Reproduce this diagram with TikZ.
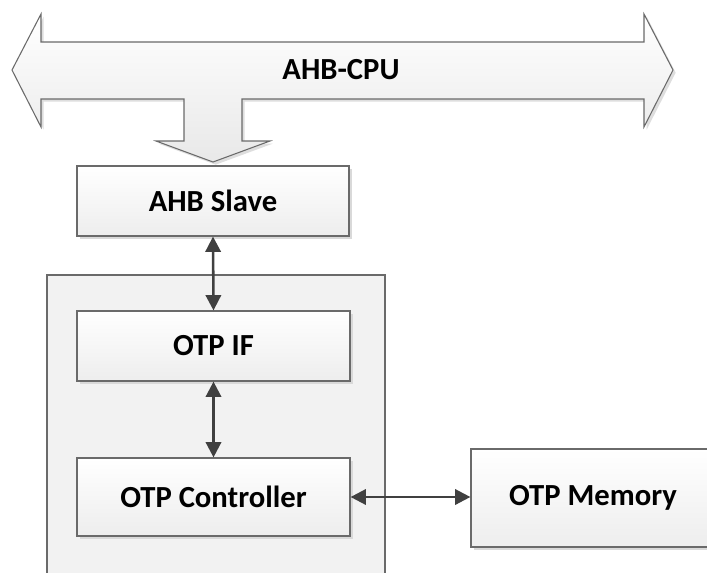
\documentclass[tikz,border=0pt]{standalone}
\usepackage{fontspec}
\setmainfont{Carlito}
\usetikzlibrary{arrows.meta,shadows}
\definecolor{edge}{HTML}{6A6A6A}
\definecolor{conn}{HTML}{404040}
\tikzset{
  blk/.style={draw=edge, line width=0.9pt, top color=white, bottom color=black!7,
    drop shadow={shadow xshift=2pt, shadow yshift=-2pt, fill=black!15, opacity=1},
    font=\fontsize{23}{27}\selectfont\bfseries, text=black, inner sep=0pt},
  link/.style={draw=conn, line width=1.9pt, {Triangle[length=11.5pt,width=11.5pt]}-{Triangle[length=11.5pt,width=11.5pt]}},
  lbl/.style={font=\fontsize{23}{27}\selectfont\bfseries, text=black}
}
\begin{document}
\begin{tikzpicture}[x=0.75pt, y=-0.75pt]
\clip (0,0) rectangle (707,572);
\fill[white] (0,0) rectangle (707,572);
% container
\draw[draw=edge, line width=0.9pt, fill=black!5] (47,275) rectangle (385,600);
% bus arrow
\path[draw=edge, line width=0.8pt, top color=white, bottom color=black!9,
  drop shadow={shadow xshift=2pt, shadow yshift=-2pt, fill=black!13, opacity=1}]
  (12,70) -- (41,14) -- (41,42) -- (644,42) -- (644,14) -- (673,70) -- (644,127)
  -- (644,99) -- (242,99) -- (242,141) -- (270,141) -- (213,162) -- (156,141)
  -- (184,141) -- (184,99) -- (41,99) -- (41,127) -- cycle;
\node[lbl] (cpu) at (341,70) {AHB-CPU};
% blocks
\node[blk, minimum width=204pt, minimum height=52.5pt] (slave) at (213,201) {AHB Slave};
\node[blk, minimum width=204.75pt, minimum height=52.5pt] (otpif) at (213.5,346) {OTP IF};
\node[blk, minimum width=204.75pt, minimum height=58.5pt] (ctrl) at (213.5,497) {OTP Controller};
\node[blk, minimum width=183pt, minimum height=73.5pt] (mem) at (593,498) {OTP Memory};
% connectors
\draw[link] (slave.south) -- (otpif.north);
\draw[link] (otpif.south) -- (ctrl.north);
\draw[link] (ctrl.east) -- (ctrl.east -| mem.west);
\end{tikzpicture}
\end{document}
